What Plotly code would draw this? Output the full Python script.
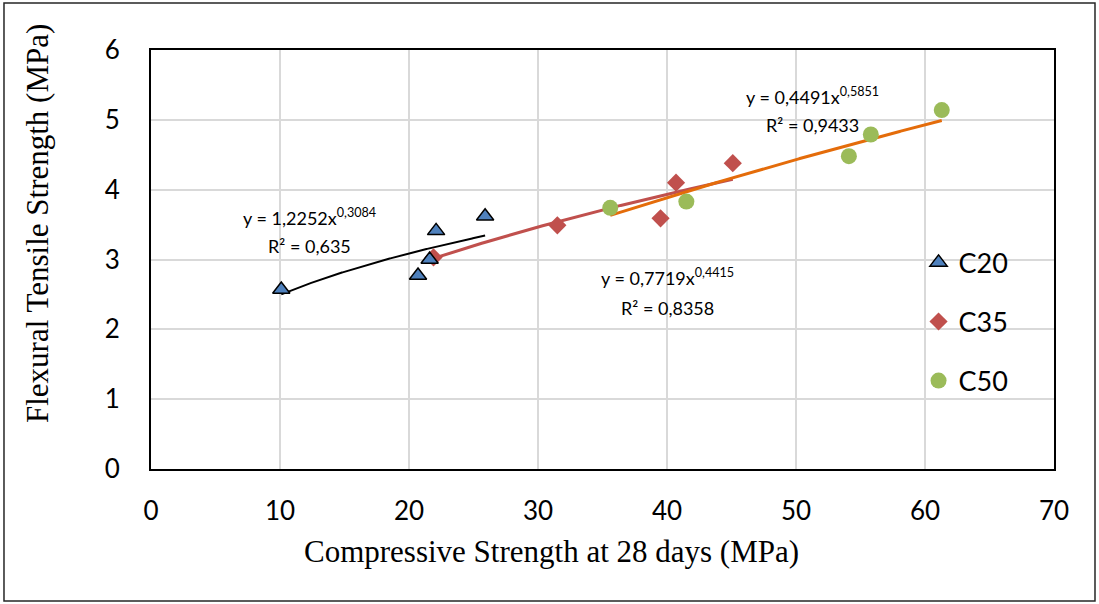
import numpy as np
import plotly.graph_objects as go

# ---- data ----
c20_x = [10.1, 20.7, 21.6, 22.1, 25.9]
c20_y = [2.57, 2.77, 3.00, 3.41, 3.62]

c35_x = [21.9, 31.5, 39.5, 40.7, 45.1]
c35_y = [3.03, 3.49, 3.59, 4.10, 4.38]

c50_x = [35.6, 41.5, 54.1, 55.8, 61.3]
c50_y = [3.74, 3.83, 4.48, 4.79, 5.14]

# power trendlines y = a * x^b (as printed on the chart)
fit_c20 = (1.2252, 0.3084, "0,635")
fit_c35 = (0.7719, 0.4415, "0,8358")
fit_c50 = (0.4491, 0.5851, "0,9433")

x_ticks = [0, 10, 20, 30, 40, 50, 60, 70]
y_ticks = [0, 1, 2, 3, 4, 5, 6]

BODY = "Lato, Calibri, sans-serif"
SERIF = "Liberation Serif, Times New Roman, serif"


def trend(xs, fit):
    xx = np.linspace(min(xs), max(xs), 300)
    return xx, fit[0] * xx ** fit[1]


fig = go.Figure()

# trendlines
for xs, fit, col, w in [(c20_x, fit_c20, "black", 2),
                        (c35_x, fit_c35, "#C0504D", 3),
                        (c50_x, fit_c50, "#E46C0A", 3)]:
    tx, ty = trend(xs, fit)
    fig.add_trace(go.Scatter(x=tx, y=ty, mode="lines", line=dict(color=col, width=w),
                             showlegend=False, hoverinfo="skip"))

fig.add_trace(go.Scatter(x=c35_x, y=c35_y, mode="markers", name="C35", legend="legend2",
                         marker=dict(symbol="diamond", size=14, color="#C0504D")))
fig.add_trace(go.Scatter(x=c50_x, y=c50_y, mode="markers", name="C50", legend="legend3",
                         marker=dict(symbol="circle", size=16, color="#9BBB59")))
fig.add_trace(go.Scatter(x=c20_x, y=c20_y, mode="markers", name="C20", legend="legend",
                         marker=dict(symbol="triangle-up", size=15, color="#4F81BD",
                                     line=dict(color="black", width=1.5))))

leg_common = dict(xanchor="left", yanchor="middle", bgcolor="rgba(0,0,0,0)",
                  font=dict(family=BODY, size=27, color="black"))
fig.update_layout(
    width=1099, height=604,
    margin=dict(l=151, r=45, t=50, b=135),
    paper_bgcolor="white", plot_bgcolor="white",
    legend=dict(x=0.850, y=0.492, **leg_common),
    legend2=dict(x=0.850, y=0.351, **leg_common),
    legend3=dict(x=0.850, y=0.210, **leg_common),
    xaxis=dict(range=[0, 70], tickvals=x_ticks, showgrid=True, gridcolor="#D9D9D9", gridwidth=1.5,
               zeroline=False, showline=True, linecolor="black", linewidth=2, mirror=True,
               ticks="", ticklabelstandoff=18,
               tickfont=dict(family=BODY, size=26, color="black")),
    yaxis=dict(range=[0, 6], tickvals=y_ticks, showgrid=True, gridcolor="#D9D9D9", gridwidth=1.5,
               zeroline=False, showline=True, linecolor="black", linewidth=2, mirror=True,
               ticks="", ticklabelstandoff=24,
               tickfont=dict(family=BODY, size=26, color="black")),
)

ann_font = dict(family=BODY, size=18, color="black")


def eq_text(fit):
    a = f"{fit[0]:.4f}".replace(".", ",")
    b = f"{fit[1]:.4f}".replace(".", ",")
    return f"y = {a}x<sup>{b}</sup>"


for fit, ax, ay1, ay2 in [(fit_c20, 12.3, 3.61, 3.20),
                          (fit_c35, 40.0, 2.75, 2.30),
                          (fit_c50, 51.3, 5.34, 4.93)]:
    fig.add_annotation(x=ax, y=ay1, text=eq_text(fit), showarrow=False, font=ann_font,
                       xanchor="center", yanchor="middle")
    fig.add_annotation(x=ax, y=ay2, text=f"R² = {fit[2]}", showarrow=False, font=ann_font,
                       xanchor="center", yanchor="middle")

# axis titles
fig.add_annotation(xref="paper", yref="paper", x=0.443, y=-0.196,
                   text="Compressive Strength at 28 days (MPa)", showarrow=False,
                   font=dict(family=SERIF, size=31, color="black"),
                   xanchor="center", yanchor="middle")
fig.add_annotation(xref="paper", yref="paper", x=-0.125, y=0.585, textangle=-90,
                   text="Flexural Tensile Strength (MPa)", showarrow=False,
                   font=dict(family=SERIF, size=31, color="black"),
                   xanchor="center", yanchor="middle")

# outer chart frame
fig.add_shape(type="rect", xref="paper", yref="paper",
              x0=-0.1628, x1=1.0454, y0=-0.315, y1=1.112,
              line=dict(color="#262626", width=1.5), layer="below")

fig.write_html("out.html")
